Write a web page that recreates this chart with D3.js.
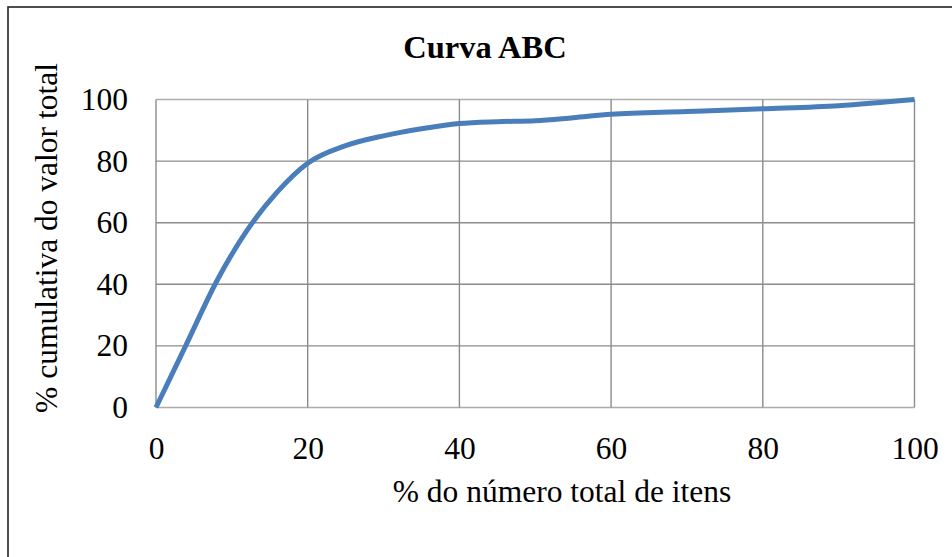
<!DOCTYPE html>
<html>
<head>
<meta charset="utf-8">
<script src="https://cdn.jsdelivr.net/npm/d3@7/dist/d3.min.js"></script>
<style>
  html, body { margin: 0; padding: 0; background: #fff; }
  svg { display: block; }
  text { font-family: "Liberation Serif", "Times New Roman", serif; fill: #000; }
</style>
</head>
<body>
<svg id="chart" width="952" height="557"></svg>
<script>
// Cumulative ABC curve: % of items vs cumulative % of total value
const itemsPct = [0, 4, 8, 12, 16, 20, 25, 30, 35, 40, 45, 50, 55, 60, 70, 80, 90, 100];
const valuePct = [0, 20.5, 41, 57.5, 70, 79.3, 85, 88.2, 90.5, 92.2, 92.8, 93.1, 94.1, 95.2, 96.1, 97, 98, 100];
const xTicks = [0, 20, 40, 60, 80, 100];
const yTicks = [0, 20, 40, 60, 80, 100];
const chartTitle = "Curva ABC";
const xTitle = "% do número total de itens";
const yTitle = "% cumulativa do valor total";

const data = itemsPct.map((x, i) => ({ x, y: valuePct[i] }));

const svg = d3.select("#chart");
const plot = { left: 156, right: 914.5, top: 99.5, bottom: 407.5 };

const x = d3.scaleLinear().domain([0, 100]).range([plot.left, plot.right]);
const y = d3.scaleLinear().domain([0, 100]).range([plot.bottom, plot.top]);

// outer chart frame
svg.append("rect")
  .attr("x", 8).attr("y", 7).attr("width", 960).attr("height", 570)
  .attr("fill", "none").attr("stroke", "#222").attr("stroke-width", 1.6);

// gridlines
const grid = svg.append("g");
grid.selectAll("line.h").data(yTicks).join("line")
  .attr("class", "h")
  .attr("x1", plot.left).attr("x2", plot.right)
  .attr("y1", d => y(d)).attr("y2", d => y(d))
  .attr("stroke", d => (d === 0 || d === 100) ? "#adadad" : "#8c8c8c")
  .attr("stroke-width", 1.4);
grid.selectAll("line.v").data(xTicks).join("line")
  .attr("class", "v")
  .attr("x1", d => x(d)).attr("x2", d => x(d))
  .attr("y1", plot.top).attr("y2", plot.bottom)
  .attr("stroke", "#8c8c8c")
  .attr("stroke-width", 1.4);

// axes (labels only; lines come from the grid)
const xAxis = svg.append("g")
  .attr("transform", `translate(0,${plot.bottom})`)
  .call(d3.axisBottom(x).tickValues(xTicks).tickSize(0).tickPadding(29).tickFormat(d3.format("d")));
const yAxis = svg.append("g")
  .attr("transform", `translate(${plot.left},0)`)
  .call(d3.axisLeft(y).tickValues(yTicks).tickSize(0).tickPadding(28).tickFormat(d3.format("d")));
[xAxis, yAxis].forEach(a => {
  a.select(".domain").remove();
  a.selectAll("text")
    .style("font-family", "'Liberation Serif', 'Times New Roman', serif")
    .style("font-size", "31.5px")
    .attr("fill", "#000");
});

// curve
svg.append("path")
  .datum(data)
  .attr("fill", "none")
  .attr("stroke", "#4a7ebb")
  .attr("stroke-width", 5)
  .attr("stroke-linejoin", "round")
  .attr("d", d3.line().x(d => x(d.x)).y(d => y(d.y)).curve(d3.curveMonotoneX));

// titles
svg.append("text")
  .attr("x", 485).attr("y", 58)
  .attr("text-anchor", "middle")
  .style("font-size", "32.5px").style("font-weight", "bold")
  .text(chartTitle);

svg.append("text")
  .attr("x", 562).attr("y", 502)
  .attr("text-anchor", "middle")
  .style("font-size", "31.5px")
  .text(xTitle);

svg.append("text")
  .attr("transform", "translate(57,238) rotate(-90)")
  .attr("text-anchor", "middle")
  .style("font-size", "31.5px")
  .text(yTitle);
</script>
</body>
</html>
